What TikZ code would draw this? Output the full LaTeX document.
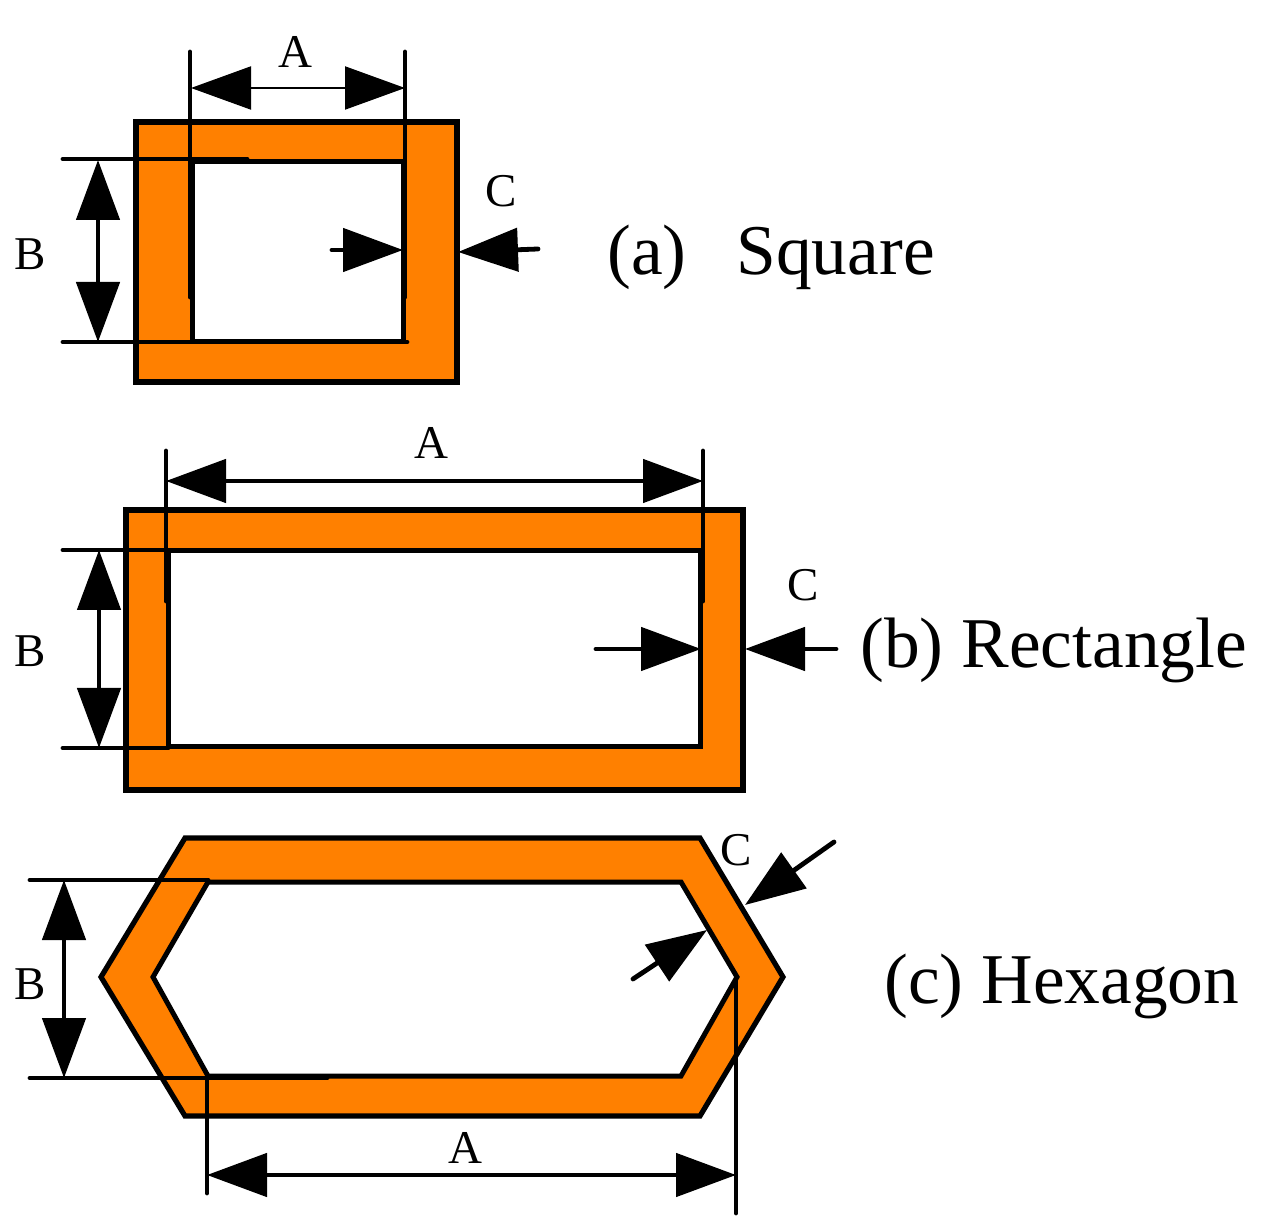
\documentclass[tikz,border=0pt]{standalone}
\usepackage{fontspec}
\setmainfont{Liberation Serif}
\usetikzlibrary{arrows.meta}

\begin{document}
\begin{tikzpicture}[x=0.5pt,y=-0.5pt,
  ring/.style={draw,line width=2.6pt,fill=ringorange},
  hole/.style={draw,line width=2.5pt,fill=white},
  dimline/.style={line width=2.4pt,line cap=round},
  dimarrow/.style={line width=2.4pt,{Triangle[length=30pt,width=21.5pt]}-{Triangle[length=30pt,width=21.5pt]}},
  cuearrow/.style={line width=2.4pt,line cap=round,-{Triangle[length=30pt,width=21.5pt]}},
  dimlabel/.style={inner sep=0pt,font=\fontsize{23.5}{24}\selectfont},
  caption/.style={inner sep=0pt,anchor=base west,font=\fontsize{35.7}{36}\selectfont}]
\definecolor{ringorange}{RGB}{255,128,0}
\useasboundingbox (0,0) rectangle (1270,1229);
% square
\draw[ring] (136,122) rectangle (457,382);
\draw[hole] (192,162) rectangle (403,342);
\coordinate (sqAl) at (191,88);
\coordinate (sqAr) at (405,88);
\coordinate (sqBt) at (98,160);
\coordinate (sqBb) at (98,342);
\draw[dimline] (190,52) -- (190,297);
\draw[dimline] (405,52) -- (405,297);
\draw[dimline] (63,159) -- (247,159);
\draw[dimline] (63,342) -- (407,342);
\draw[dimarrow,line width=1pt] (sqAl) -- (sqAr);
\draw[dimarrow] (sqBt) -- (sqBb);
\coordinate (sqCa) at (332,250);
\coordinate (sqCb) at (403,250);
\coordinate (sqCc) at (538,249);
\coordinate (sqCd) at (458,252);
\draw[cuearrow] (sqCa) -- (sqCb);
\draw[cuearrow] (sqCc) -- (sqCd);
\node[dimlabel] (sqA) at (295,52) {A};
\node[dimlabel] (sqB) at (30,254) {B};
\node[dimlabel] (sqC) at (501,191) {C};
\node[caption] (sqName) at (607,275) {(a)\hspace{0.7em}Square};
% rectangle
\draw[ring] (126,510) rectangle (743,790);
\draw[hole] (168,551) rectangle (700,747);
\coordinate (reAl) at (166,481);
\coordinate (reAr) at (703,481);
\coordinate (reBt) at (99,550);
\coordinate (reBb) at (99,748);
\draw[dimline] (166,451) -- (166,601);
\draw[dimline] (703,451) -- (703,601);
\draw[dimline] (63,550) -- (168,550);
\draw[dimline] (63,748) -- (168,748);
\draw[dimarrow] (reAl) -- (reAr);
\draw[dimarrow] (reBt) -- (reBb);
\coordinate (reCa) at (596,649);
\coordinate (reCb) at (701,649);
\coordinate (reCc) at (836,649);
\coordinate (reCd) at (745,649);
\draw[cuearrow] (reCa) -- (reCb);
\draw[cuearrow] (reCc) -- (reCd);
\node[dimlabel] (reA) at (431,443) {A};
\node[dimlabel] (reB) at (30,651) {B};
\node[dimlabel] (reC) at (803,585) {C};
\node[caption] (reName) at (860,668) {(b) Rectangle};
% hexagon
\draw[ring] (185,838) -- (700,838) -- (783,977) -- (700,1116) -- (185,1116) -- (101,977) -- cycle;
\draw[hole] (208,882) -- (681,882) -- (737,977) -- (681,1076) -- (208,1076) -- (153,977) -- cycle;
\coordinate (heAl) at (207,1175);
\coordinate (heAr) at (736,1175);
\coordinate (heBt) at (64,880);
\coordinate (heBb) at (64,1078);
\draw[dimline] (30,880) -- (208,880);
\draw[dimline] (30,1078) -- (327,1078);
\draw[dimline] (207,1076) -- (207,1193);
\draw[dimline] (736,977) -- (736,1213);
\draw[dimarrow] (heAl) -- (heAr);
\draw[dimarrow] (heBt) -- (heBb);
\coordinate (heCa) at (633,979);
\coordinate (heCb) at (707,930);
\coordinate (heCc) at (834,842);
\coordinate (heCd) at (745,905);
\draw[cuearrow] (heCa) -- (heCb);
\draw[cuearrow] (heCc) -- (heCd);
\node[dimlabel] (heA) at (465,1148) {A};
\node[dimlabel] (heB) at (30,984) {B};
\node[dimlabel] (heC) at (736,850) {C};
\node[caption] (heName) at (884,1003) {(c) Hexagon};
\end{tikzpicture}
\end{document}
